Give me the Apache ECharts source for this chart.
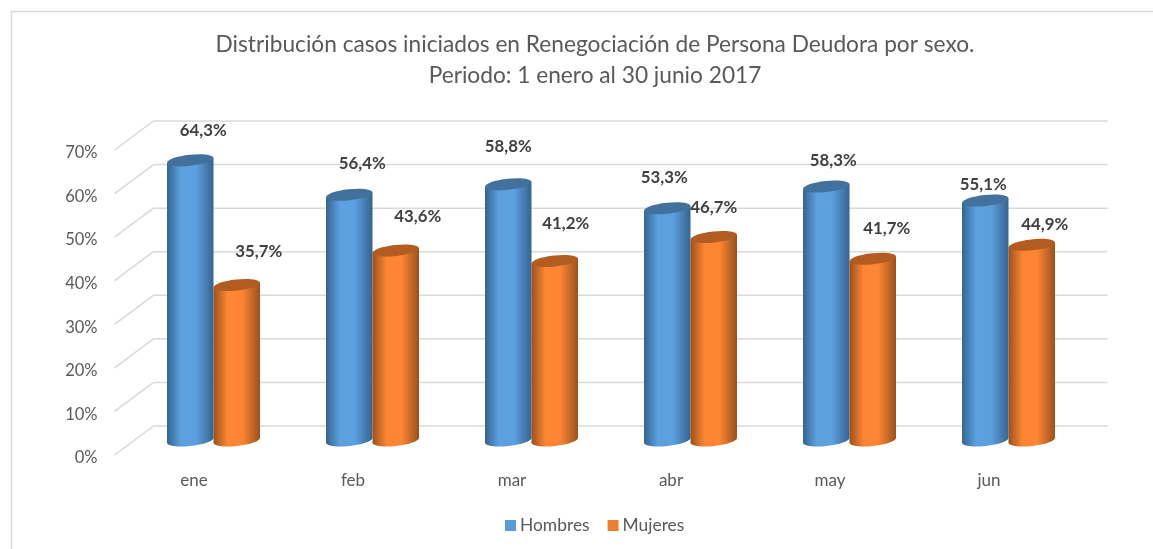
<!DOCTYPE html>
<html>
<head>
<meta charset="utf-8">
<title>Renegociación</title>
<script src="https://cdn.jsdelivr.net/npm/echarts@6/dist/echarts.min.js"></script>
<style>
  html, body { margin: 0; padding: 0; background: #fff; }
  #chart { width: 1153px; height: 549px; }
</style>
</head>
<body>
<div id="chart"></div>
<script>
const months = ['ene', 'feb', 'mar', 'abr', 'may', 'jun']
const hombres = [64.3, 56.4, 58.8, 53.3, 58.3, 55.1]
const mujeres = [35.7, 43.6, 41.2, 46.7, 41.7, 44.9]
const ticks = [0, 10, 20, 30, 40, 50, 60, 70]

// the labels were dragged around by hand in the original, so [dx, dy] from the bar top
const hombresLabelShift = [[13, -30], [13, -31], [0, -38], [-3, -31], [7, -26], [-2, -16]]
const mujeresLabelShift = [[22, -33], [22, -34], [11, -37], [0, -29], [14, -30], [13, -20]]

// fake 3d: the floor goes back by this much
const depthX = 39
const depthY = -29
const barRatio = 0.2925
const tilt = 2.5

const chart = echarts.init(document.getElementById('chart'))

function sideFill(edge, mid) {
  return new echarts.graphic.LinearGradient(0, 0, 1, 0, [
    { offset: 0, color: edge },
    { offset: 0.3, color: mid },
    { offset: 0.62, color: mid },
    { offset: 1, color: edge }
  ])
}

function renderWall(params, api) {
  const cs = params.coordSys
  const y = api.coord([0, api.value(1)])[1]
  const lineStyle = { stroke: '#d9d9d9', lineWidth: 1.5, fill: null }
  return {
    type: 'group',
    children: [
      { type: 'line', shape: { x1: cs.x, y1: y, x2: cs.x + depthX, y2: y + depthY }, style: lineStyle },
      { type: 'line', shape: { x1: cs.x + depthX, y1: y + depthY, x2: cs.x + cs.width + depthX, y2: y + depthY }, style: lineStyle }
    ]
  }
}

function cylinder(side, edge, mid, cap, shifts) {
  return function(params, api) {
    const i = api.value(0)
    const value = api.value(1)
    const band = api.size([1, 0])[0]
    const w = band * barRatio
    const center = api.coord([i, 0])[0] + depthX / 2 + side * w / 2
    const base = api.coord([i, 0])[1] + depthY / 2
    const top = api.coord([i, value])[1] + depthY / 2
    const left = center - w / 2
    const right = center + w / 2
    const fill = sideFill(edge, mid)
    const rot = Math.atan2(tilt * 2, w)
    const shift = shifts[params.dataIndex]
    return {
      type: 'group',
      children: [
        {
          type: 'ellipse',
          shape: { cx: center, cy: base, rx: w / 2, ry: 5.5 },
          rotation: rot,
          originX: center,
          originY: base,
          style: { fill: fill }
        },
        {
          type: 'polygon',
          shape: { points: [[left, top + tilt], [right, top - tilt], [right, base - tilt], [left, base + tilt]] },
          style: { fill: fill }
        },
        {
          type: 'ellipse',
          shape: { cx: center, cy: top, rx: w / 2, ry: 5.5 },
          rotation: rot,
          originX: center,
          originY: top,
          style: { fill: cap }
        },
        {
          type: 'text',
          x: center + shift[0],
          y: top + shift[1],
          style: {
            text: value.toFixed(1).replace('.', ',') + '%',
            fill: '#404040',
            font: 'bold 16.8px Lato',
            align: 'center',
            verticalAlign: 'middle'
          }
        }
      ]
    }
  }
}

const option = {
  animation: false,
  backgroundColor: '#fff',
  textStyle: { fontFamily: 'Lato' },
  title: {
    text: 'Distribución casos iniciados en Renegociación de Persona Deudora por sexo.\nPeriodo: 1 enero al 30 junio 2017',
    left: 590,
    top: 24,
    textAlign: 'center',
    textStyle: { color: '#595959', fontSize: 22.7, fontWeight: 'normal', lineHeight: 31, fontFamily: 'Lato' }
  },
  legend: {
    data: ['Hombres', 'Mujeres'],
    left: 505,
    top: 517,
    padding: 0,
    icon: 'rect',
    itemWidth: 11,
    itemHeight: 11,
    itemGap: 18,
    textStyle: { color: '#595959', fontSize: 17.4, padding: [0, 0, 0, -1] }
  },
  grid: { left: 114.5, top: 150, width: 954, height: 305 },
  xAxis: {
    type: 'category',
    data: months,
    axisLine: { show: false },
    axisTick: { show: false },
    axisLabel: { color: '#595959', fontSize: 17, margin: 17 }
  },
  yAxis: {
    type: 'value',
    min: 0,
    max: 70,
    interval: 10,
    axisLine: { show: false },
    axisTick: { show: false },
    splitLine: { show: false },
    axisLabel: { color: '#595959', fontSize: 16.5, margin: 17, verticalAlign: 'top', lineHeight: 6, formatter: '{value}%' }
  },
  graphic: [
    { type: 'line', shape: { x1: 11.5, y1: 11, x2: 11.5, y2: 549 }, style: { stroke: '#d9d9d9', lineWidth: 1.5 } },
    { type: 'line', shape: { x1: 11, y1: 11.5, x2: 1153, y2: 11.5 }, style: { stroke: '#d9d9d9', lineWidth: 1.5 } }
  ],
  series: [
    {
      name: 'wall',
      type: 'custom',
      z: 1,
      silent: true,
      renderItem: renderWall,
      encode: { x: 0, y: 1 },
      data: ticks.map(t => [0, t])
    },
    {
      name: 'Hombres',
      type: 'custom',
      z: 2,
      itemStyle: { color: '#5b9bd5' },
      renderItem: cylinder(-1, '#36648f', '#5da0e0', '#41719c', hombresLabelShift),
      encode: { x: 0, y: 1 },
      data: hombres.map((v, i) => [i, v])
    },
    {
      name: 'Mujeres',
      type: 'custom',
      z: 3,
      itemStyle: { color: '#ed7d31' },
      renderItem: cylinder(1, '#99521f', '#fd8533', '#b35c21', mujeresLabelShift),
      encode: { x: 0, y: 1 },
      data: mujeres.map((v, i) => [i, v])
    }
  ]
}

chart.setOption(option)
</script>
</body>
</html>
